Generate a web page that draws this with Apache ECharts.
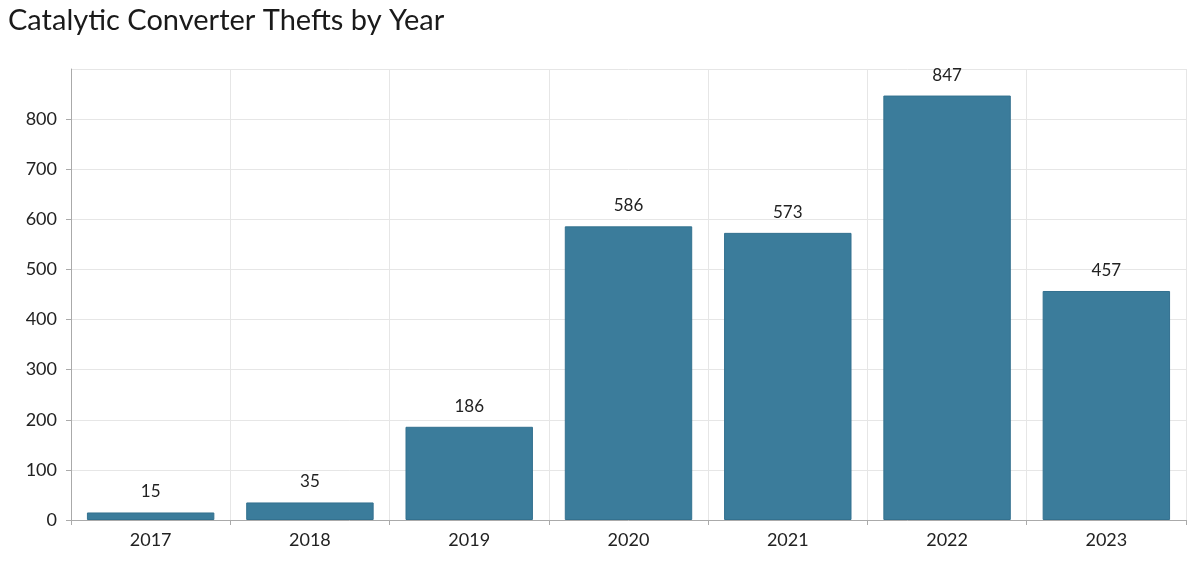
<!DOCTYPE html>
<html>
<head>
<meta charset="utf-8">
<script src="https://cdn.jsdelivr.net/npm/echarts@6/dist/echarts.min.js"></script>
<style>
html,body{margin:0;padding:0;background:#fff;}
#chart{width:1200px;height:563px;}
</style>
</head>
<body>
<div id="chart"></div>
<script>
const titleText = "Catalytic Converter Thefts by Year";
const years = ["2017", "2018", "2019", "2020", "2021", "2022", "2023"];
const thefts = [15, 35, 186, 586, 573, 847, 457];

const chart = echarts.init(document.getElementById('chart'));
chart.setOption({
  animation: false,
  backgroundColor: '#fff',
  title: {
    text: titleText,
    left: 3, top: 1,
    textStyle: {fontFamily: 'Lato', fontSize: 29, fontWeight: 'normal', color: '#1a1a1a'}
  },
  grid: {left: 71, right: 14, top: 69, bottom: 43, containLabel: false},
  xAxis: {
    type: 'category',
    data: years,
    boundaryGap: true,
    axisLine: {show: true, lineStyle: {color: '#aaa'}},
    axisTick: {show: true, length: 5, lineStyle: {color: '#aaa'}},
    splitLine: {show: true, lineStyle: {color: '#e6e6e6'}},
    axisLabel: {fontFamily: 'Lato', fontSize: 18, color: '#222', margin: 11}
  },
  yAxis: {
    type: 'value',
    min: 0, max: 900, interval: 100,
    axisLine: {show: true, lineStyle: {color: '#aaa'}},
    axisTick: {show: true, length: 5, lineStyle: {color: '#aaa'}},
    splitLine: {show: true, lineStyle: {color: '#e6e6e6'}},
    axisLabel: {fontFamily: 'Lato', fontSize: 18, color: '#222', margin: 14, showMaxLabel: false}
  },
  series: [{
    type: 'bar',
    data: thefts,
    barCategoryGap: '20%',
    itemStyle: {color: '#3b7c9b', borderColor: '#33718f', borderWidth: 1},
    label: {show: true, position: 'top', distance: 12, fontFamily: 'Lato', fontSize: 17, color: '#222'}
  }]
});
</script>
</body>
</html>
